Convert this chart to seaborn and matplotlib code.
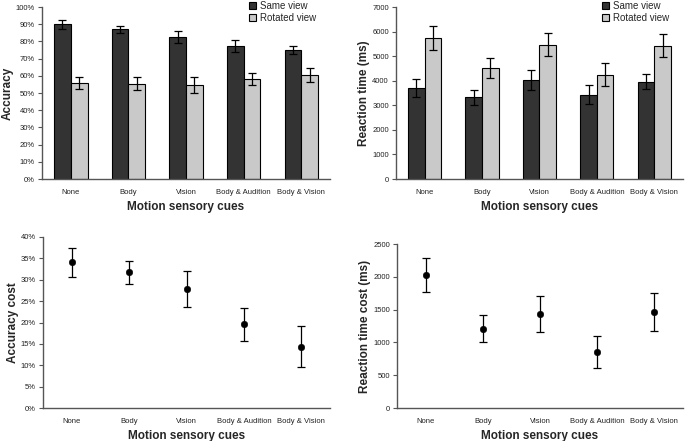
import numpy as np
import pandas as pd
import matplotlib
matplotlib.use("Agg")
import matplotlib.pyplot as plt
import seaborn as sns
from matplotlib.ticker import FuncFormatter, FixedLocator
from matplotlib.patches import Patch

cues = ["None", "Body", "Vision", "Body & Audition", "Body & Vision"]
views = ["Same view", "Rotated view"]

# accuracy (%)
acc_same = [90.0, 87.0, 82.5, 77.5, 75.0]
acc_same_err = [2.5, 1.8, 3.5, 3.5, 2.5]
acc_rot = [56.0, 55.5, 54.5, 58.0, 60.5]
acc_rot_err = [3.5, 3.8, 4.7, 3.5, 4.2]

# reaction time (ms)
rt_same = [3700, 3320, 4040, 3430, 3970]
rt_same_err = [370, 310, 400, 390, 310]
rt_rot = [5740, 4520, 5470, 4250, 5430]
rt_rot_err = [500, 420, 460, 460, 480]

# costs
acc_cost = [34.1, 31.7, 27.9, 19.6, 14.3]
acc_cost_err = [3.4, 2.7, 4.2, 3.9, 4.8]
rt_cost = [2030, 1210, 1430, 855, 1465]
rt_cost_err = [260, 205, 272, 245, 290]

sns.set_style("white")
plt.rcParams['font.family'] = ['Liberation Sans', 'DejaVu Sans']

dark = "#333333"
light = "#c9c9c9"
tick_fs = 5.5
lab_fs = 8.5

fig = plt.figure(figsize=(6.85, 4.41), dpi=100)
ax_tl = fig.add_axes([0.0613, 0.594, 0.4205, 0.390])
ax_tr = fig.add_axes([0.578, 0.594, 0.419, 0.390])
ax_bl = fig.add_axes([0.0628, 0.0748, 0.419, 0.3878])
ax_br = fig.add_axes([0.5796, 0.0748, 0.4174, 0.3719])


def style_axes(ax, ylabel):
    sns.despine(ax=ax)
    for s in ["left", "bottom"]:
        ax.spines[s].set_color("#555555")
        ax.spines[s].set_linewidth(1.0)
    ax.set_xlim(-0.5, 4.5)
    ax.set_xticks(range(len(cues)))
    ax.set_xticklabels(cues, fontsize=tick_fs, color="#222222")
    ax.xaxis.set_minor_locator(FixedLocator(np.arange(-0.5, 5.0, 1.0)))
    ax.tick_params(axis="x", which="major", length=0, pad=7)
    ax.tick_params(axis="x", which="minor", length=3, width=0.8, color="#555555", direction="out")
    ax.tick_params(axis="y", length=3, width=0.8, color="#555555", direction="out",
                   labelsize=tick_fs, labelcolor="#222222", pad=2, left=True)
    ax.set_xlabel("Motion sensory cues", fontsize=lab_fs, fontweight="bold", labelpad=4)
    ax.set_ylabel(ylabel, fontsize=lab_fs, fontweight="bold", labelpad=1.5)
    ax.grid(False)


def bar_panel(ax, same, same_err, rot, rot_err, ylabel, ymax, ystep, fmt):
    df = pd.DataFrame({
        "cue": cues * 2,
        "view": [views[0]] * 5 + [views[1]] * 5,
        "value": same + rot,
    })
    sns.barplot(data=df, x="cue", y="value", hue="view", order=cues, hue_order=views,
                palette=[dark, light], width=0.58, edgecolor="black", linewidth=0.8,
                errorbar=None, ax=ax, legend=False, saturation=1)
    errs = same_err + rot_err
    vals = same + rot
    for p, v, e in zip(ax.patches, vals, errs):
        xc = p.get_x() + p.get_width() / 2
        ax.errorbar(xc, v, yerr=e, fmt="none", ecolor="black", elinewidth=0.9,
                    capsize=2.6, capthick=0.9)
    ax.set_ylim(0, ymax)
    ax.set_yticks(np.arange(0, ymax + ystep / 2, ystep))
    ax.yaxis.set_major_formatter(FuncFormatter(fmt))
    style_axes(ax, ylabel)


def point_panel(ax, vals, errs, ylabel, ymax, ystep, fmt):
    df = pd.DataFrame({"cue": cues, "value": vals})
    sns.scatterplot(data=df, x="cue", y="value", color="black", s=22, ax=ax,
                    edgecolor="black", zorder=3)
    ax.errorbar(range(len(cues)), vals, yerr=errs, fmt="none", ecolor="black",
                elinewidth=0.9, capsize=2.6, capthick=0.9)
    ax.set_ylim(0, ymax)
    ax.set_yticks(np.arange(0, ymax + ystep / 2, ystep))
    ax.yaxis.set_major_formatter(FuncFormatter(fmt))
    style_axes(ax, ylabel)


pct = lambda v, pos: f"{v:.0f}%"
num = lambda v, pos: f"{v:.0f}"

bar_panel(ax_tl, acc_same, acc_same_err, acc_rot, acc_rot_err, "Accuracy", 100, 10, pct)
bar_panel(ax_tr, rt_same, rt_same_err, rt_rot, rt_rot_err, "Reaction time (ms)", 7000, 1000, num)
point_panel(ax_bl, acc_cost, acc_cost_err, "Accuracy cost", 40, 5, pct)
point_panel(ax_br, rt_cost, rt_cost_err, "Reaction time cost (ms)", 2500, 500, num)

handles = [Patch(facecolor=dark, edgecolor="black", linewidth=0.8),
           Patch(facecolor=light, edgecolor="black", linewidth=0.8)]
for x0 in [243 / 685, 596 / 685]:
    fig.legend(handles, views, loc="upper left", bbox_to_anchor=(x0, 1.012),
               frameon=False, fontsize=7, handlelength=0.7, handleheight=0.7,
               handletextpad=0.5, labelspacing=0.25, borderpad=0.1)

fig.savefig("out.png", dpi=100)
